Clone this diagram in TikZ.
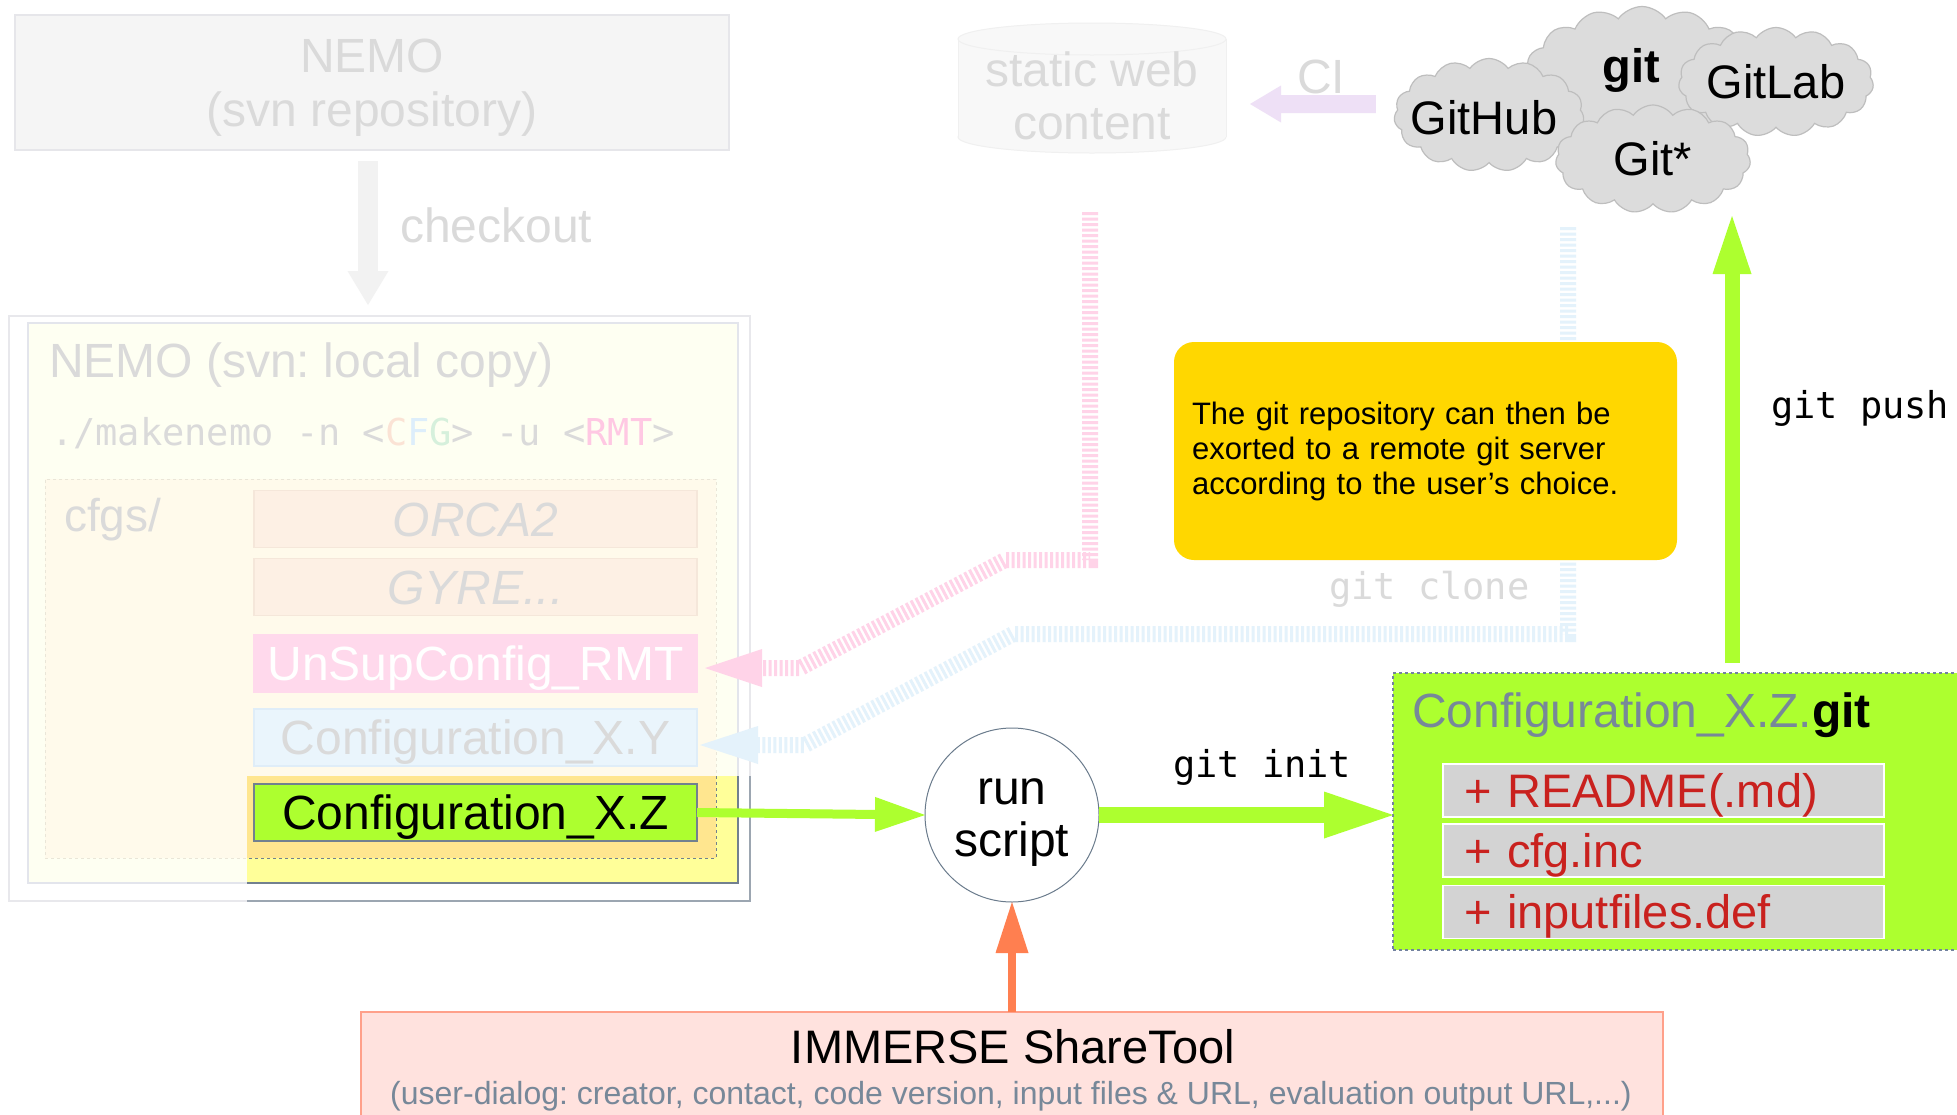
\documentclass[tikz,border=0pt]{standalone}
\usepackage{fontspec}
\setmainfont{Liberation Sans}
\setmonofont{DejaVu Sans Mono}
\usetikzlibrary{arrows.meta,shapes.symbols,calc}
\newcommand\fsz[2]{\fontsize{#1}{#2}\selectfont}
\definecolor{faded}{HTML}{DADADA}
\definecolor{svnfill}{HTML}{F5F5F5}
\definecolor{svnborder}{HTML}{E6E6EA}
\definecolor{chkgray}{HTML}{F2F2F2}
\definecolor{outerborder}{HTML}{E8E8EC}
\definecolor{innerfill}{HTML}{FEFFF2}
\definecolor{innerborder}{HTML}{E3E5EC}
\definecolor{cfgsfill}{HTML}{FFFAEB}
\definecolor{cfgsborder}{HTML}{EAE6D8}
\definecolor{hlyellow}{HTML}{FFFF99}
\definecolor{hlorange}{HTML}{FFE68F}
\definecolor{darkline}{HTML}{72808F}
\definecolor{peachfill}{HTML}{FDF0E4}
\definecolor{peachborder}{HTML}{F5E7DA}
\definecolor{pinkfill}{HTML}{FFD9EC}
\definecolor{bluefill}{HTML}{EAF5FC}
\definecolor{blueborder}{HTML}{DFEDF8}
\definecolor{cpeach}{HTML}{FBE3D5}
\definecolor{cblue}{HTML}{DDEEFB}
\definecolor{cgreen}{HTML}{D6F0DC}
\definecolor{cpink}{HTML}{FFC8E3}
\definecolor{ygreen}{HTML}{ADFF2F}
\definecolor{notegold}{HTML}{FFD700}
\definecolor{coralc}{HTML}{FF7F50}
\definecolor{cloudfill}{HTML}{DCDCDC}
\definecolor{cloudline}{HTML}{BEBEBE}
\definecolor{cylfill}{HTML}{F8F8F8}
\definecolor{cylline}{HTML}{F0F0F0}
\definecolor{lavender}{HTML}{EEE0F6}
\definecolor{hpink}{HTML}{FFD3E8}
\definecolor{hblue}{HTML}{E4F2FB}
\definecolor{slate}{HTML}{778899}
\definecolor{filefill}{HTML}{D3D3D3}
\definecolor{redtext}{HTML}{C9211E}
\definecolor{immfill}{HTML}{FFE2DE}
\definecolor{immline}{HTML}{FFA08A}
\definecolor{circline}{HTML}{6A7B8C}
\definecolor{gitboxline}{HTML}{7382A0}
\begin{document}
\frenchspacing
\begin{tikzpicture}[x=1pt,y=-1pt,
  every node/.style={inner sep=0pt,outer sep=0pt},
  cfgbox/.style={minimum width=443pt,minimum height=57pt,line width=1.5pt,text height=35pt,text depth=1pt},
  filebox/.style={draw=white,fill=filefill,line width=1.5pt,minimum width=441pt,minimum height=53pt,
    text width=399pt,align=left,text height=34pt,text depth=1pt,text=redtext,font=\fsz{47}{47}},
  cloudshape/.style={cloud,cloud puffs=15,cloud puff arc=110,cloud ignores aspect,draw=cloudline,fill=cloudfill,line width=1.2pt},
  hatch/.style={line width=16pt,dash pattern=on 3pt off 2.5pt},
  monolbl/.style={anchor=base west,font=\ttfamily\fsz{37}{37}}
]
\clip (0,0) rectangle (1957,1114);
\fill[white] (0,0) rectangle (1957,1114);

% ---------- svn repository ----------
\node[draw=svnborder,fill=svnfill,line width=2pt,minimum width=714pt,minimum height=135pt,
  label={[align=center,text=faded,font=\fsz{48}{54},yshift=-5pt]center:NEMO\\(svn repository)}] (svn) at (372,82.5) {};
\node[anchor=base west,text=faded,font=\fsz{48}{48}] (chklbl) at (400,242) {checkout};

% ---------- local copy ----------
\node[draw=outerborder,fill=white,line width=1.5pt,minimum width=741pt,minimum height=585pt] (localouter) at (379.5,608.5) {};
\node[draw=innerborder,fill=innerfill,line width=2.5pt,minimum width=710pt,minimum height=560pt] (localinner) at (383,603) {};
\draw[line width=20pt,draw=chkgray,-{Triangle[length=34pt,width=41pt,line width=0pt]}]
  ($(svn.south)+(-4,11)$) -- ($(svn.south |- localouter.north)+(-4,-11)$);
\node[anchor=base west,text=faded,font=\fsz{48}{48}] (localtitle) at (49,377) {NEMO (svn: local copy)};
\node[anchor=base west,font=\ttfamily\fsz{37}{37},text=faded] (makecmd) at (51,445)
  {./makenemo -n <\textcolor{cpeach}{C}\textcolor{cblue}{F}\textcolor{cgreen}{G}> -u <\textcolor{cpink}{RMT}>};
\node[draw=cfgsborder,dashed,fill=cfgsfill,line width=1pt,minimum width=671pt,minimum height=379pt] (cfgs) at (380.5,668.5) {};
\node[anchor=base west,text=faded,font=\fsz{46}{46}] (cfgslbl) at (64,531) {cfgs/};

% highlighted corner
\fill[hlyellow] (247,776) rectangle (738,883);
\fill[hlorange] (247,776) rectangle (716,858);
\draw[darkline,dashed,line width=1pt] (716,776) -- (716,858) -- (247,858);
\draw[darkline,line width=2.5pt] (738,776) -- (738,883) -- (247,883);
\draw[darkline!70,line width=1.5pt] (750,776) -- (750,901) -- (247,901);

\node[cfgbox,draw=peachborder,fill=peachfill,text=faded,font=\itshape\fsz{48}{48}] (orca) at (475.5,519) {ORCA2};
\node[cfgbox,draw=peachborder,fill=peachfill,text=faded,font=\itshape\fsz{48}{48}] (gyre) at (475.5,587) {GYRE...};
\node[cfgbox,draw=pinkfill,fill=pinkfill,text=white,font=\fsz{48}{48}] (unsup) at (475.5,663.5) {UnSupConfig\_RMT};
\node[cfgbox,draw=blueborder,fill=bluefill,text=faded,font=\fsz{48}{48}] (cfgxy) at (475.5,737.5) {Configuration\_X.Y};
\node[cfgbox,draw=darkline,fill=ygreen,text=black,font=\fsz{48}{48}] (cfgxz) at (475.5,812.5) {Configuration\_X.Z};

% ---------- static web content ----------
\filldraw[fill=cylfill,draw=cylline,line width=1pt] (1092,137) ellipse [x radius=134, y radius=16];
\fill[cylfill] (958,39) rectangle (1226,137);
\draw[cylline,line width=1pt] (958,39) -- (958,137) (1226,39) -- (1226,137);
\filldraw[fill=cylfill,draw=cylline,line width=1pt] (1092,39) ellipse [x radius=134, y radius=16];
\node[align=center,text=faded,font=\fsz{48}{53}] (web) at (1092,96) {static web\\content};

% ---------- clouds ----------
\node[cloudshape,minimum width=236pt,minimum height=143pt] (gitcloud) at (1642,78) {};
\node[cloudshape,minimum width=195pt,minimum height=109pt,label={[font=\fsz{47}{47}]center:GitLab}] (gitlab) at (1776,82) {};
\node[cloudshape,minimum width=190pt,minimum height=113pt,label={[font=\fsz{47}{47},xshift=-5pt,yshift=-3pt]center:GitHub}] (github) at (1489,115) {};
\node[cloudshape,minimum width=195pt,minimum height=108pt,label={[font=\fsz{47}{47}]center:Git*}] (gitstar) at (1653,159) {};
\node[font=\bfseries\fsz{47}{47}] (gitword) at (1631,70) {git};

% CI arrow
\node[anchor=base west,text=faded,font=\fsz{48}{48}] (cilbl) at (1297,93) {CI};
\coordinate (ciA) at ($(github.west)+(-19,-11)$);
\coordinate (ciB) at (1250,104);
\draw[line width=18pt,draw=lavender,-{Triangle[length=31pt,width=37pt,line width=0pt]}] (ciA) -- (ciB);

% ---------- hatched connectors ----------
\coordinate (pinkstart) at (1090,212);
\draw[hatch,draw=hpink,-{Triangle[length=57pt,width=38pt,line width=0pt,color=hpink]}]
  (pinkstart) -- (1090,560) -- (1005,560) -- (800,668) -- ($(unsup.east)+(8,4.5)$);
\coordinate (bluestart) at (1568,227);
\draw[hatch,draw=hblue,-{Triangle[length=58pt,width=38pt,line width=0pt,color=hblue]}]
  (bluestart) -- (1568,634) -- (1013,634) -- (805,745) -- ($(cfgxy.east)+(3,7.5)$);
\node[monolbl,text=faded] (clonelbl) at (1329,599) {git clone};

% ---------- note ----------
\node[rounded corners=20pt,fill=notegold,minimum width=503pt,minimum height=218pt,text width=467pt,
  align=left,font=\fsz{31}{35}] (note) at (1425.5,451)
  {The git repository can then be\\exorted to a remote git server\\according to the user’s choice.};

% ---------- run script & git box ----------
\node[circle,draw=circline,line width=1pt,fill=white,minimum size=174pt,
  label={[align=center,font=\fsz{48}{52},yshift=-8pt]center:run\\script}] (run) at (1012,815) {};
\node[draw=gitboxline,dashed,line width=1.2pt,fill=ygreen,minimum width=580pt,minimum height=277pt] (gitbox) at (1683,811.5) {};
\node[anchor=base west,text=slate,font=\fsz{48}{48}] (gittitle) at (1412,727) {Configuration\_X.Z.\textcolor{black}{\bfseries git}};
\node[filebox] (readme) at (1663.5,790.5) {+ README(.md)};
\node[filebox] (cfginc) at (1663.5,850.5) {+ cfg.inc};
\node[filebox] (inputs) at (1663.5,912) {+ inputfiles.def};

\draw[line width=9pt,draw=ygreen,-{Triangle[length=50pt,width=35pt,line width=0pt]}] (cfgxz.east) -- (run.west);
\draw[line width=16pt,draw=ygreen,-{Triangle[length=69pt,width=47pt,line width=0pt]}] (run.east) -- (run.east -| gitbox.west);
\node[monolbl] (initlbl) at (1173,777) {git init};

\coordinate (pushA) at ($(gitbox.north west)+(339,-10)$);
\coordinate (pushB) at (1732,216);
\draw[line width=15pt,draw=ygreen,-{Triangle[length=58pt,width=39pt,line width=0pt]}] (pushA) -- (pushB);
\node[monolbl] (pushlbl) at (1771,418) {git push};

% ---------- IMMERSE ShareTool ----------
\node[draw=immline,fill=immfill,line width=1.5pt,minimum width=1302pt,minimum height=130pt] (immerse) at (1012,1077) {};
\node[anchor=base,font=\fsz{47}{47}] (immtitle) at (1013,1063) {IMMERSE ShareTool};
\node[anchor=base,text=slate,font=\fsz{32}{32}] (immsub) at (1011,1104)
  {(user-dialog: creator, contact, code version, input files \& URL, evaluation output URL,...)};
\draw[line width=8pt,draw=coralc,-{Triangle[length=51pt,width=33pt,line width=0pt]}] (immerse.north) -- (run.south);
\end{tikzpicture}
\end{document}
